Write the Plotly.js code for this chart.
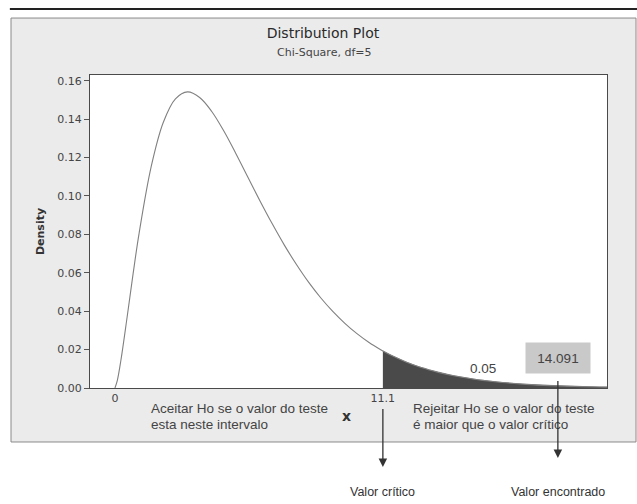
<!DOCTYPE html>
<html>
<head>
<meta charset="utf-8">
<script src="https://cdn.plot.ly/plotly-3.0.1.min.js"></script>
<style>html,body{margin:0;padding:0;background:#fff;}#chart{width:637px;height:504px;}</style>
</head>
<body>
<div id="chart"></div>
<script>
// Chi-Square (df=5) density curve
const curveX = [0, 0.1, 0.25, 0.5, 0.75, 1, 1.5, 2, 2.5, 3, 3.5, 4, 4.5, 5, 5.5, 6, 6.5, 7, 7.5, 8, 8.5, 9, 9.5, 10, 10.5, 11, 11.07, 11.5, 12, 12.5, 13, 13.5, 14, 15, 16, 17, 18, 19, 20, 20.33];
const curveY = [0, 0.004, 0.0147, 0.0366, 0.0594, 0.0807, 0.1154, 0.1384, 0.1506, 0.1542, 0.1513, 0.1440, 0.1338, 0.1220, 0.1096, 0.0973, 0.0855, 0.0744, 0.0643, 0.0551, 0.0470, 0.0399, 0.0337, 0.0283, 0.0237, 0.0198, 0.0193, 0.0165, 0.0137, 0.0113, 0.0094, 0.0077, 0.0064, 0.0043, 0.0029, 0.0019, 0.00125, 0.00083, 0.00054, 0.00047];
const criticalValue = 11.07;
const criticalLabel = "11.1";
const tailArea = "0.05";
const foundValue = "14.091";
const yTicks = [0, 0.02, 0.04, 0.06, 0.08, 0.10, 0.12, 0.14, 0.16];
const yTickText = ["0.00", "0.02", "0.04", "0.06", "0.08", "0.10", "0.12", "0.14", "0.16"];

const tailX = [], tailY = [];
curveX.forEach((v, i) => { if (v >= criticalValue) { tailX.push(v); tailY.push(curveY[i]); } });

const txtFont = {family: "Liberation Sans, Arial, sans-serif", size: 13.5, color: "#444"};
const lblFont = {family: "Liberation Sans, Arial, sans-serif", size: 12.5, color: "#333"};

function textLine(t, xp, yp) {
  return {text: t, xref: "paper", yref: "paper", x: xp, y: yp, xanchor: "left", yanchor: "middle",
          showarrow: false, font: txtFont};
}

const data = [
  {x: tailX, y: tailY, type: "scatter", mode: "lines", fill: "tozeroy",
   fillcolor: "#4a4a4a", line: {color: "#4a4a4a", width: 0.5}, hoverinfo: "skip"},
  {x: curveX, y: curveY, type: "scatter", mode: "lines",
   line: {color: "#808080", width: 1.1, shape: "spline"}, hoverinfo: "skip"}
];

const layout = {
  width: 637, height: 504,
  margin: {l: 90, r: 30, t: 75, b: 116},
  paper_bgcolor: "#ffffff",
  plot_bgcolor: "rgba(0,0,0,0)",
  showlegend: false,
  font: {family: "DejaVu Sans, sans-serif", size: 11, color: "#444"},
  title: {text: "Distribution Plot", xref: "container", x: 0.507, yref: "container", y: 0.934, yanchor: "middle",
          font: {family: "DejaVu Sans, sans-serif", size: 14, color: "#2a2a2a"}},
  xaxis: {range: [-1.03, 20.33], showgrid: false, zeroline: false, tickvals: [0, criticalValue], ticktext: ["0", criticalLabel],
          ticks: "", showline: true, mirror: true, linecolor: "#4a4a4a", linewidth: 1,
          tickfont: {family: "DejaVu Sans, sans-serif", size: 11, color: "#444"}},
  yaxis: {range: [0, 0.163], showgrid: false, zeroline: false, tickvals: yTicks, ticktext: yTickText,
          ticks: "outside", ticklen: 5, tickcolor: "#555", showline: true, mirror: true, linecolor: "#4a4a4a", linewidth: 1,
          tickfont: {family: "DejaVu Sans, sans-serif", size: 11, color: "#444"},
          title: {text: "Density", standoff: 10, font: {family: "DejaVu Sans, sans-serif", size: 11, color: "#333", weight: "bold"}}},
  shapes: [
    {type: "line", xref: "paper", yref: "paper", x0: -0.155, x1: 1.058, y0: 1.211, y1: 1.211, line: {color: "#222", width: 2}, layer: "below"},
    {type: "rect", xref: "paper", yref: "paper", x0: -0.1528, x1: 1.0561, y0: -0.1725, y1: 1.182, fillcolor: "#ebebeb", line: {color: "#8a8a8a", width: 1}, layer: "below"},
    {type: "rect", xref: "paper", yref: "paper", x0: 0, x1: 1, y0: 0, y1: 1, fillcolor: "#ffffff", line: {width: 0}, layer: "below"}
  ],
  annotations: [
    {text: "Chi-Square, df=5", xref: "paper", yref: "paper", x: 0.452, y: 1.073, yanchor: "middle", showarrow: false,
     font: {family: "DejaVu Sans, sans-serif", size: 11, color: "#444"}},
    textLine("Aceitar Ho se o valor do teste", 0.114, -0.0645),
    textLine("esta neste intervalo", 0.114, -0.1156),
    {text: "x", xref: "paper", yref: "paper", x: 0.497, y: -0.0895, yanchor: "middle", showarrow: false,
     font: {family: "DejaVu Sans, sans-serif", size: 14, color: "#333", weight: "bold"}},
    textLine("Rejeitar Ho se o valor do teste", 0.621, -0.0645),
    textLine("é maior que o valor crítico", 0.621, -0.1156),
    {text: tailArea, xref: "x", yref: "y", x: 15.2, y: 0.0099, showarrow: false, font: txtFont},
    {text: " ", xref: "x", yref: "paper", x: criticalValue, y: -0.2524, ax: 0, ay: -66, axref: "pixel", ayref: "pixel",
     showarrow: true, arrowhead: 2, arrowsize: 1.3, arrowwidth: 1.3, arrowcolor: "#333", standoff: 0},
    {text: " ", xref: "x", yref: "paper", x: 18.3, y: -0.2236, ax: 0, ay: -85, axref: "pixel", ayref: "pixel",
     showarrow: true, arrowhead: 2, arrowsize: 1.3, arrowwidth: 1.3, arrowcolor: "#333", standoff: 0},
    {text: foundValue, xref: "x", yref: "y", x: 18.3, y: 0.0156, showarrow: false, bgcolor: "#c9c9c9",
     width: 60, height: 26, borderpad: 2, font: {family: "Liberation Sans, Arial, sans-serif", size: 13.5, color: "#444"}},
    {text: "Valor crítico", xref: "x", yref: "paper", x: criticalValue, y: -0.332, yanchor: "middle", showarrow: false, font: lblFont},
    {text: "Valor encontrado", xref: "x", yref: "paper", x: 18.3, y: -0.332, yanchor: "middle", showarrow: false, font: lblFont}
  ]
};

Plotly.newPlot("chart", data, layout, {staticPlot: true, displayModeBar: false});
</script>
</body>
</html>
